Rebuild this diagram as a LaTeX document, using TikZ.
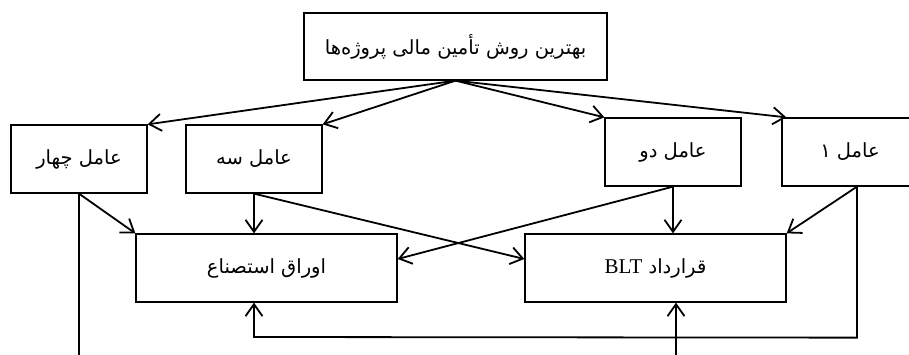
\documentclass[tikz,border=0pt]{standalone}
\usepackage{fontspec}
\setmainfont{Liberation Serif}
\newfontfamily\fafont[Script=Arabic]{DejaVu Sans}
\TeXXeTstate=1
\usetikzlibrary{arrows.meta,calc}
\tikzset{
  box/.style={draw, line width=1.3pt, inner sep=0pt, font=\fafont\fontsize{19.5}{23}\selectfont},
  small/.style={box, minimum width=136pt, minimum height=68pt},
  big/.style={box, minimum width=261pt, minimum height=68pt},
  conn/.style={line width=1.8pt, -{Straight Barb[length=12pt,width=17pt,line width=1.8pt]}},
  plain/.style={line width=1.8pt}
}
\begin{document}
\begin{tikzpicture}[x=1pt,y=-1pt]
\useasboundingbox (0,0) rectangle (909,355);
\node[box, minimum width=303pt, minimum height=67pt] (top) at (455.5,46.5) {\beginR بهترین روش تأمین مالی پروژه‌ها\endR};
\node[small] (f4) at (79,159) {\beginR عامل چهار\endR};
\node[small] (f3) at (254,159) {\beginR عامل سه\endR};
\node[small] (f2) at (673,152) {\beginR عامل دو\endR};
\node[small] (f1) at (850,152) {\beginR عامل ۱\endR};
\node[big] (ol) at (266.5,268) {\beginR اوراق استصناع\endR};
\node[big] (blt) at (655.5,268) {\beginR قرارداد {\rmfamily\fontsize{21}{23}\selectfont\beginL BLT\endL}\endR};
% top fan-out
\draw[conn] (top.south) -- (f4.north east);
\draw[conn] (top.south) -- (f3.north east);
\draw[conn] (top.south) -- (f2.north west);
\draw[conn] (top.south) -- ([xshift=5pt]f1.north west);
% f4
\draw[conn] (f4.south) -- (ol.north west);
\coordinate (f4end) at (79,362);
\draw[plain] (f4.south) -- (f4end);
% f3
\draw[conn] (f3.south) -- (f3.south |- ol.north);
\draw[conn] (f3.south) -- ([yshift=9pt]blt.west);
% f2
\draw[conn] (f2.south) -- (f2.south |- blt.north);
\draw[conn] (f2.south) -- ([yshift=9pt]ol.east);
% f1
\coordinate (f1b) at ([xshift=7pt]f1.south);
\draw[conn] (f1b) -- (blt.north east);
\coordinate (loopR) at ($(f1b)+(0,151)$);
\coordinate (loopL) at (254,337);
\draw[conn] (f1b) -- (loopR) -- (loopL) -- (loopL |- ol.south);
% bottom incoming to BLT
\coordinate (bltin) at (676,362);
\draw[conn] (bltin) -- (bltin |- blt.south);
\end{tikzpicture}
\end{document}
